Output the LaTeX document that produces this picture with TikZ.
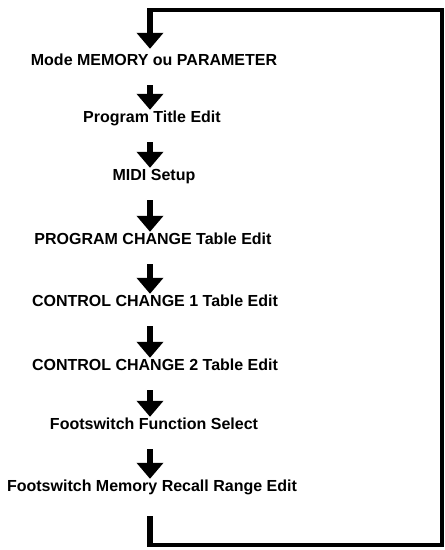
\documentclass[tikz,border=0pt]{standalone}
\usepackage{fontspec}
\setmainfont{Liberation Sans}
\usepackage{tikz}
\usetikzlibrary{arrows.meta,calc}
\tikzset{
  flow/.style={-{Triangle[length=16pt,width=26pt]}, line width=6pt},
  back line/.style={line width=4pt, line join=miter},
  menu item/.style={font=\fontsize{16}{19}\selectfont\bfseries,
    inner sep=0pt, text height=11pt, text depth=3pt}
}

\begin{document}
\begin{tikzpicture}[x=1pt, y=-1pt]
  \useasboundingbox (0,0) rectangle (445,550);
  \node[menu item] (mode) at (154,61) {Mode MEMORY ou PARAMETER};
  \node[menu item] (title) at (152,118) {Program Title Edit};
  \node[menu item] (midi) at (154,176) {MIDI Setup};
  \node[menu item] (pchg) at (153,240) {PROGRAM CHANGE Table Edit};
  \node[menu item] (cchg1) at (155,302) {CONTROL CHANGE 1 Table Edit};
  \node[menu item] (cchg2) at (155,366) {CONTROL CHANGE 2 Table Edit};
  \node[menu item] (fsel) at (154,425) {Footswitch Function Select};
  \node[menu item] (frange) at (152,487) {Footswitch Memory Recall Range Edit};
  \coordinate (tl) at (150,10);
  \coordinate (tr) at (442,10);
  \coordinate (br) at (442,545);
  \coordinate (bl) at (150,545);

  % return path
  \draw[back line] (tl) -- (tr) -- (br) -- (bl);
  \draw[line width=6pt] (frange.south -| bl) ++(0,22) -- ([yshift=-2pt]bl);
  \draw[flow] ([yshift=2pt]tl) -- ([yshift=5pt]mode.north -| tl);

  \draw[flow] ([yshift=-17pt]mode.south -| tl) -- ([yshift=1pt]title.north -| tl);
  \draw[flow] ([yshift=-17pt]title.south -| tl) -- ([yshift=1pt]midi.north -| tl);
  \draw[flow] ([yshift=-17pt]midi.south -| tl) -- ([yshift=1pt]pchg.north -| tl);
  \draw[flow] ([yshift=-17pt]pchg.south -| tl) -- ([yshift=1pt]cchg1.north -| tl);
  \draw[flow] ([yshift=-17pt]cchg1.south -| tl) -- ([yshift=1pt]cchg2.north -| tl);
  \draw[flow] ([yshift=-17pt]cchg2.south -| tl) -- ([yshift=1pt]fsel.north -| tl);
  \draw[flow] ([yshift=-17pt]fsel.south -| tl) -- ([yshift=1pt]frange.north -| tl);
\end{tikzpicture}
\end{document}
